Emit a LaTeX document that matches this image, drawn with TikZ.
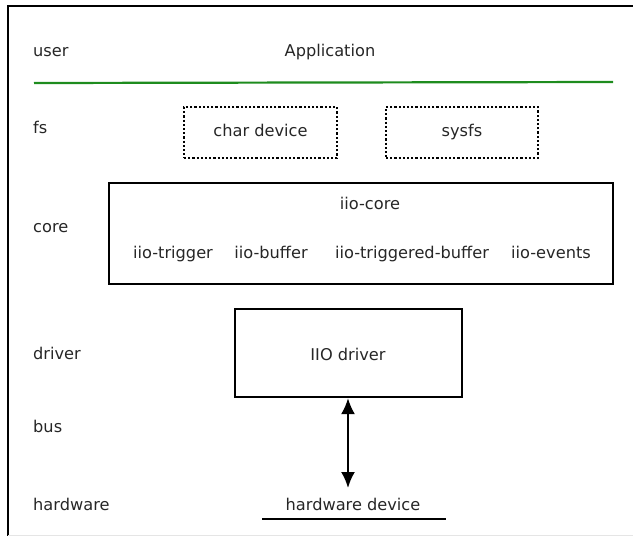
\documentclass[tikz,border=0pt]{standalone}
\usepackage{fontspec}
\setmainfont{DejaVu Sans}
\usetikzlibrary{arrows.meta}
\definecolor{txt}{gray}{0.15}
\definecolor{lgreen}{RGB}{30,140,30}
\begin{document}
\begin{tikzpicture}[x=1pt,y=-1pt,
  lbl/.style={anchor=west,inner sep=0pt,text=txt,text height=11.5pt,text depth=3.5pt,font=\fontsize{16.2}{19}\selectfont},
  txtnode/.style={inner sep=0pt,text=txt,text height=11.5pt,text depth=3.5pt,font=\fontsize{16.2}{19}\selectfont},
  solidbox/.style={draw=black,line width=2.2pt,rectangle,inner sep=0pt},
  dotbox/.style={draw=black,line width=2.2pt,dash pattern=on 2.2pt off 2pt,rectangle,inner sep=0pt},
  frameline/.style={line width=2.2pt,black},
  conn/.style={line width=2.2pt,black,{Latex[length=16pt,width=14pt]}-{Latex[length=16pt,width=14pt]}}
]
\useasboundingbox (0,0) rectangle (633,536);
% frame (cropped screenshot)
\coordinate (ftl) at (8,6);
\coordinate (ftr) at (634,6);
\coordinate (fbl) at (8,537);
\draw[frameline] (ftr) -- (ftl) -- (fbl);
\coordinate (bb1) at (8,535.5);
\coordinate (bb2) at (633,535.5);
\draw[gray!20,line width=1pt] (bb1) -- (bb2);

% layer labels
\node[lbl] (luser) at (33,52) {user};
\node[lbl] (lfs) at (33,129) {fs};
\node[lbl] (lcore) at (33,228) {core};
\node[lbl] (ldriver) at (33,355) {driver};
\node[lbl] (lbus) at (33,428) {bus};
\node[lbl] (lhw) at (33,506) {hardware};

% user
\node[txtnode] (app) at (330,52) {Application};
\coordinate (g1) at (34,83);
\coordinate (g2) at (613,82);
\draw[lgreen,line width=2.2pt] (g1) -- (g2);

% fs
\node[dotbox,minimum width=153pt,minimum height=51pt] (chr) at (260.5,132.5) {};
\node[txtnode] (chrt) at (chr.center) {char device};
\node[dotbox,minimum width=152pt,minimum height=51pt] (sys) at (462,132.5) {};
\node[txtnode] (syst) at (sys.center) {sysfs};

% core
\node[solidbox,minimum width=504pt,minimum height=101pt] (core) at (361,233.5) {};
\node[txtnode] (iiocore) at (370,205) {iio-core};
\node[txtnode] (trig) at (173,254) {iio-trigger};
\node[txtnode] (buf) at (271,254) {iio-buffer};
\node[txtnode] (tbuf) at (412,254) {iio-triggered-buffer};
\node[txtnode] (evt) at (551,254) {iio-events};

% driver
\node[solidbox,minimum width=227pt,minimum height=88pt] (drv) at (348.5,353) {};
\node[txtnode] (drvt) at (348,356) {IIO driver};

% hardware
\node[txtnode] (hwd) at (353,506) {hardware device};
\coordinate (u1) at (262,519);
\coordinate (u2) at (446,519);
\draw[line width=2.2pt,black] (u1) -- (u2);
\coordinate (aend) at (348,488);
\draw[conn] (drv.south -| aend) -- (aend);
\end{tikzpicture}
\end{document}
